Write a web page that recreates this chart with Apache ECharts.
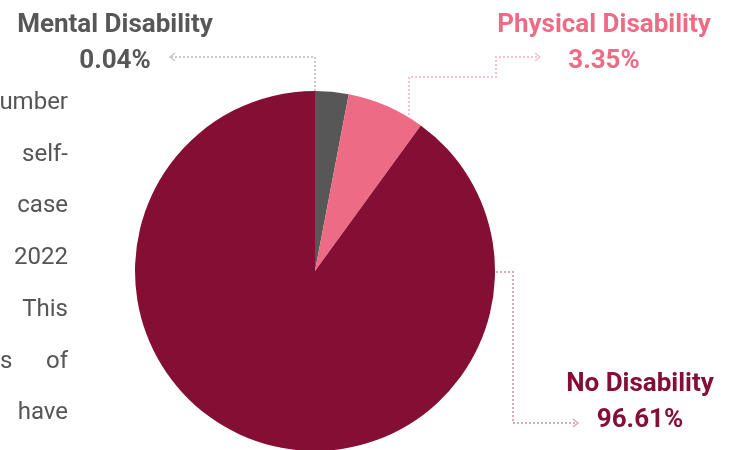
<!DOCTYPE html>
<html>
<head>
<meta charset="utf-8">
<script src="https://cdn.jsdelivr.net/npm/echarts@6/dist/echarts.min.js"></script>
<style>
  html, body { margin: 0; padding: 0; background: #fff; }
  #chart { width: 729px; height: 450px; }
</style>
</head>
<body>
<div id="chart"></div>
<script>
const categories = ["Mental Disability", "Physical Disability", "No Disability"]
// percentages printed on the labels
const shareLabels = ["0.04%", "3.35%", "96.61%"]
// slice sizes as they are drawn (share of the circle)
const sliceShares = [3.0, 7.0, 90.0]
const sliceColors = ["#575757", "#ee6b86", "#850e35"]
const leaderColors = ["#c9c9c9", "#f6c4cf", "#dcaabc"]

// cut-off justified paragraph on the left edge (one entry per line, words split)
const paragraphLines = [["umber"], ["self-"], ["case"], ["2022"], ["This"], ["s", "of"], ["have"]]

const chart = echarts.init(document.getElementById("chart"))

const labelSpots = [[115, 43], [604, 43], [640, 402]]

// leader lines: start on the pie edge, dotted elbows, arrow at the end
const leaders = [
  [[315, 91], [315, 57], [170, 57]],
  [[409, 115], [409, 77], [496, 77], [496, 57], [540, 57]],
  [[496, 272], [513, 272], [513, 423], [578, 423]],
]

const graphics = []

leaders.forEach((pts, i) => {
  graphics.push({
    type: "polyline",
    shape: { points: pts },
    style: { stroke: leaderColors[i], lineWidth: 2, lineDash: [2, 2], fill: null },
    silent: true,
  })
  const end = pts[pts.length - 1]
  const prev = pts[pts.length - 2]
  const dir = end[0] > prev[0] ? 1 : -1
  graphics.push({
    type: "polyline",
    shape: {
      points: [
        [end[0] - dir * 5, end[1] - 4],
        [end[0], end[1]],
        [end[0] - dir * 5, end[1] + 4],
      ],
    },
    style: { stroke: leaderColors[i], lineWidth: 1.5, fill: null },
    silent: true,
  })
})

const textStyle = { fontFamily: "Roboto", fontSize: 24, fill: "#555555", verticalAlign: "middle" }

paragraphLines.forEach((words, i) => {
  const y = 103 + i * 51.7
  // last word sits on the right edge, a leading word (justified line) on the left edge
  graphics.push({
    type: "text", x: 68, y: y, silent: true,
    style: Object.assign({ text: words[words.length - 1], align: "right" }, textStyle),
  })
  if (words.length > 1) {
    graphics.push({
      type: "text", x: 0, y: y, silent: true,
      style: Object.assign({ text: words[0], align: "left" }, textStyle),
    })
  }
})

const option = {
  backgroundColor: "#fff",
  animation: false,
  graphic: graphics,
  series: [
    {
      type: "pie",
      center: [315, 271],
      radius: 180,
      startAngle: 90,
      clockwise: true,
      data: categories.map((name, i) => ({
        name: name,
        value: sliceShares[i],
        itemStyle: { color: sliceColors[i] },
        label: { color: sliceColors[i] },
      })),
      label: {
        show: true,
        formatter: (p) => `{n|${p.name}}\n{v|${shareLabels[p.dataIndex]}}`,
        rich: {
          n: { fontFamily: "Roboto", fontWeight: "bold", fontSize: 26, lineHeight: 36 },
          v: { fontFamily: "Roboto", fontWeight: "bold", fontSize: 26, lineHeight: 36 },
        },
      },
      labelLine: { show: false },
      labelLayout: (params) => ({
        x: labelSpots[params.dataIndex][0],
        y: labelSpots[params.dataIndex][1],
        align: "center",
        verticalAlign: "middle",
      }),
      emphasis: { disabled: true },
    },
  ],
}

chart.setOption(option)
</script>
</body>
</html>
